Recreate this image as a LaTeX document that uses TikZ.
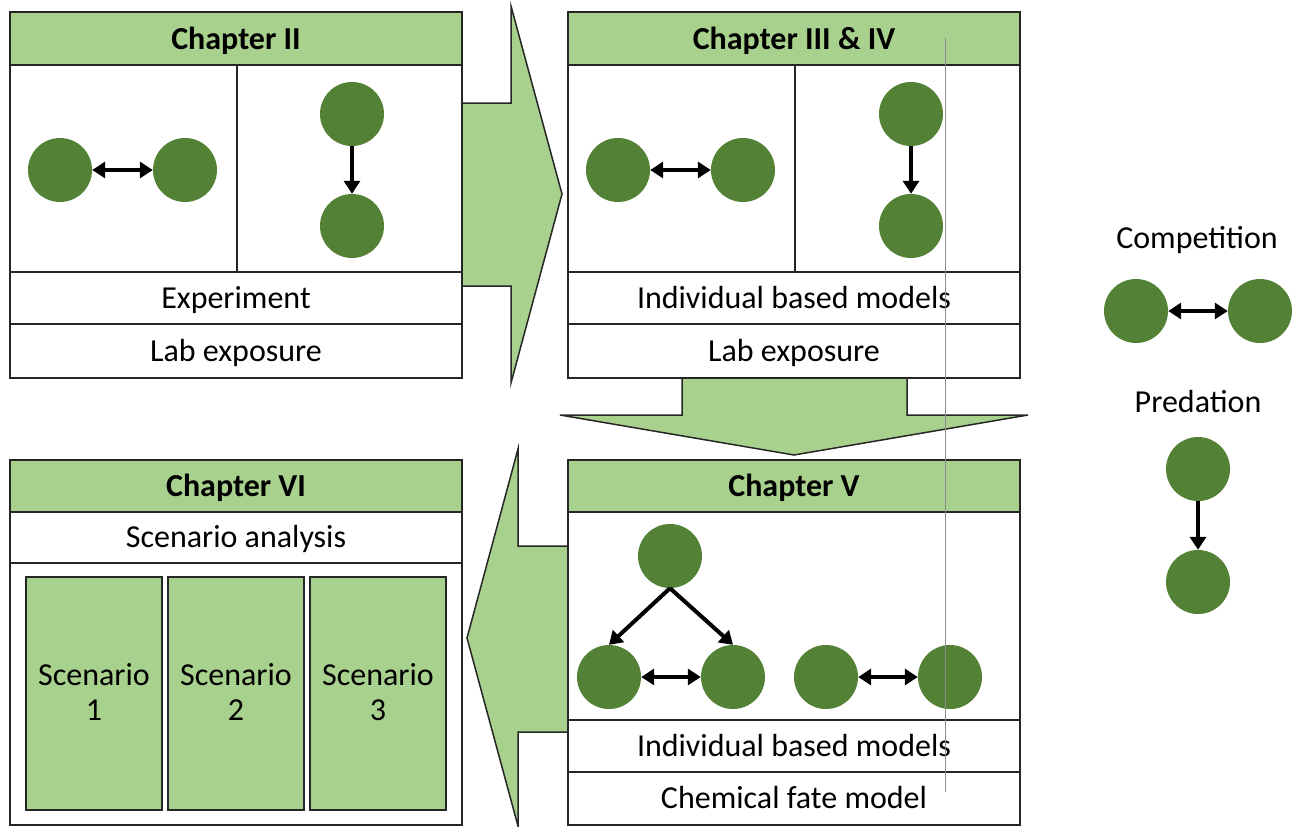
\documentclass[tikz,border=0pt]{standalone}
\usepackage{fontspec}
\setmainfont{Carlito}
\usetikzlibrary{arrows.meta}
\definecolor{hdrgreen}{HTML}{A9D18E}
\definecolor{circgreen}{HTML}{538135}
\definecolor{edgecol}{HTML}{262626}
\begin{document}
\begin{tikzpicture}[x=1pt,y=-1pt,
  frame/.style={draw=edgecol, line width=1.8pt},
  hdrfill/.style={fill=hdrgreen, draw=edgecol, line width=1.8pt},
  blockarrow/.style={fill=hdrgreen, draw=edgecol, line width=1.5pt, line join=miter},
  sp/.style={circle, fill=circgreen, minimum size=64pt, inner sep=0pt},
  lbl/.style={font=\fontsize{32}{36}\selectfont, inner sep=0pt, anchor=base},
  hdr/.style={font=\fontsize{32}{36}\selectfont\bfseries, inner sep=0pt, anchor=base},
  link/.style={line width=4pt, -{Triangle[length=13pt,width=16pt]}},
  both/.style={line width=4pt, {Triangle[length=13pt,width=16pt]}-{Triangle[length=13pt,width=16pt]}},
  scen/.style={fill=hdrgreen, draw=edgecol, line width=1.2pt},
]
\useasboundingbox (0,0) rectangle (1293,827);

% block arrows
\draw[blockarrow] (462,103) -- (511,103) -- (511,6) -- (562,194) -- (511,383) -- (511,286) -- (462,286) -- cycle;
\draw[blockarrow] (682,378) -- (682,415) -- (560,415) -- (794,455) -- (1028,415) -- (907,415) -- (907,378) -- cycle;
\draw[blockarrow] (568,546) -- (518,546) -- (518,449) -- (467,638) -- (518,826) -- (518,732) -- (568,732) -- cycle;

% ---------- Chapter II ----------
\draw[frame, fill=white] (10,12) rectangle (462,378);
\draw[hdrfill] (10,12) rectangle (462,65);
\draw[frame] (237,65) -- (237,272);
\draw[frame] (10,272) -- (462,272);
\draw[frame] (10,324) -- (462,324);
\node[hdr] (h2) at (236,49) {Chapter II};
\node[lbl] (e2) at (236,308) {Experiment};
\node[lbl] (l2) at (236,361) {Lab exposure};
\node[sp] (a1) at (60,170) {};
\node[sp] (a2) at (185,170) {};
\node[sp] (a3) at (352,114) {};
\node[sp] (a4) at (352,226) {};
\draw[both] (a1) -- (a2);
\draw[link] (a3) -- (a4);

% ---------- Chapter III & IV ----------
\draw[frame, fill=white] (568,12) rectangle (1020,378);
\draw[hdrfill] (568,12) rectangle (1020,65);
\draw[frame] (795,65) -- (795,272);
\draw[frame] (568,272) -- (1020,272);
\draw[frame] (568,324) -- (1020,324);
\node[hdr] (h3) at (794,49) {Chapter III \& IV};
\node[lbl] (e3) at (794,308) {Individual based models};
\node[lbl] (l3) at (794,361) {Lab exposure};
\node[sp] (b1) at (618,170) {};
\node[sp] (b2) at (743,170) {};
\node[sp] (b3) at (911,114) {};
\node[sp] (b4) at (911,226) {};
\draw[both] (b1) -- (b2);
\draw[link] (b3) -- (b4);

% ---------- Chapter V ----------
\draw[frame, fill=white] (568,460) rectangle (1020,825);
\draw[hdrfill] (568,460) rectangle (1020,512);
\draw[frame] (568,720) -- (1020,720);
\draw[frame] (568,772) -- (1020,772);
\node[hdr] (h5) at (794,496) {Chapter V};
\node[lbl] (e5) at (794,756) {Individual based models};
\node[lbl] (l5) at (794,808.5) {Chemical fate model};
\node[sp] (c0) at (670,556) {};
\node[sp] (c1) at (609,677) {};
\node[sp] (c2) at (733,677) {};
\node[sp] (c3) at (826,677) {};
\node[sp] (c4) at (950,677) {};
\draw[link] (c0.south) -- (c1.north);
\draw[link] (c0.south) -- (c2.north);
\draw[both] (c1) -- (c2);
\draw[both] (c3) -- (c4);

% ---------- Chapter VI ----------
\draw[frame, fill=white] (10,460) rectangle (462,825);
\draw[hdrfill] (10,460) rectangle (462,512);
\draw[frame] (10,563) -- (462,563);
\node[hdr] (h6) at (236,496) {Chapter VI};
\node[lbl] (s6) at (236,547.5) {Scenario analysis};
\draw[scen] (26,577) rectangle (162,810);
\draw[scen] (168,577) rectangle (304,810);
\draw[scen] (310,577) rectangle (446,810);
\node[lbl] (sa1) at (94,685) {Scenario};
\node[lbl] (sb1) at (94,720) {1};
\node[lbl] (sa2) at (236,685) {Scenario};
\node[lbl] (sb2) at (236,720) {2};
\node[lbl] (sa3) at (378,685) {Scenario};
\node[lbl] (sb3) at (378,720) {3};

% ---------- Legend ----------
\node[lbl] (comp) at (1197,248) {Competition};
\node[sp] (d1) at (1136,311) {};
\node[sp] (d2) at (1260,311) {};
\draw[both] (d1) -- (d2);
\node[lbl] (pred) at (1198,412) {Predation};
\node[sp] (d3) at (1198,469) {};
\node[sp] (d4) at (1198,582) {};
\draw[link] (d3) -- (d4);

% thin grey guide line
\draw[black!45, line width=0.8pt] (945,38) -- (945,792);
\end{tikzpicture}
\end{document}
